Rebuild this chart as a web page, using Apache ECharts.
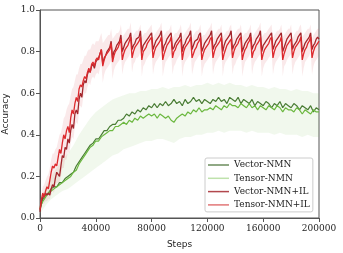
<!DOCTYPE html>
<html><head><meta charset="utf-8">
<script src="https://cdn.jsdelivr.net/npm/echarts@6/dist/echarts.min.js"></script>
<style>html,body{margin:0;padding:0;background:#fff}#c{width:343px;height:253px}</style>
</head><body><div id="c"></div>
<script>
// tick labels
const xTicks = [0, 40000, 80000, 120000, 160000, 200000];
const yTicks = [0.0, 0.2, 0.4, 0.6, 0.8, 1.0];
const seriesNames = ['Vector-NMN', 'Tensor-NMN', 'Vector-NMN+IL', 'Tensor-NMN+IL'];

// green runs: one value every 2000 steps (0..200000)
const vectorNMN = [
0.04,0.09,0.11,0.12,0.14,0.15,0.15,0.17,0.17,0.19,
0.20,0.21,0.22,0.25,0.27,0.29,0.31,0.33,0.35,0.36,
0.38,0.38,0.40,0.42,0.42,0.44,0.45,0.45,0.47,0.47,
0.48,0.50,0.49,0.51,0.50,0.52,0.51,0.53,0.52,0.54,
0.53,0.55,0.53,0.55,0.54,0.56,0.54,0.55,0.57,0.55,
0.56,0.54,0.57,0.55,0.56,0.58,0.56,0.57,0.55,0.57,
0.56,0.55,0.57,0.56,0.58,0.56,0.57,0.55,0.58,0.57,
0.56,0.58,0.55,0.57,0.56,0.55,0.57,0.54,0.56,0.55,
0.54,0.56,0.55,0.53,0.55,0.54,0.56,0.53,0.55,0.54,
0.53,0.55,0.54,0.52,0.54,0.53,0.52,0.54,0.51,0.53,
0.52];
const tensorNMN = [
0.05,0.08,0.10,0.12,0.13,0.14,0.15,0.16,0.17,0.18,
0.19,0.20,0.22,0.23,0.26,0.28,0.30,0.32,0.34,0.35,
0.37,0.37,0.39,0.40,0.41,0.42,0.42,0.44,0.44,0.45,
0.46,0.45,0.47,0.46,0.48,0.47,0.49,0.48,0.49,0.50,
0.49,0.50,0.48,0.50,0.49,0.48,0.49,0.47,0.46,0.48,
0.49,0.50,0.49,0.51,0.50,0.52,0.51,0.53,0.51,0.52,
0.52,0.53,0.52,0.54,0.53,0.52,0.54,0.53,0.55,0.54,
0.54,0.53,0.55,0.54,0.53,0.55,0.53,0.54,0.52,0.54,
0.53,0.52,0.54,0.53,0.52,0.54,0.53,0.51,0.53,0.52,
0.52,0.51,0.53,0.52,0.50,0.52,0.51,0.50,0.52,0.51,
0.51];
// green spread: one value every 4000 steps
const greenUpper = [
0.08,0.15,0.20,0.24,0.28,0.31,0.35,0.40,0.44,0.48,
0.51,0.53,0.55,0.57,0.58,0.59,0.60,0.60,0.61,0.61,
0.62,0.62,0.63,0.62,0.63,0.63,0.64,0.63,0.64,0.64,
0.65,0.64,0.65,0.64,0.65,0.64,0.64,0.63,0.64,0.63,
0.63,0.62,0.63,0.62,0.62,0.61,0.62,0.61,0.61,0.60,
0.60];
const greenLower = [
0.02,0.06,0.09,0.11,0.13,0.14,0.16,0.18,0.20,0.22,
0.24,0.26,0.28,0.30,0.31,0.33,0.34,0.35,0.36,0.37,
0.37,0.38,0.38,0.37,0.36,0.38,0.39,0.39,0.40,0.40,
0.41,0.41,0.42,0.41,0.42,0.42,0.42,0.41,0.42,0.41,
0.41,0.41,0.40,0.41,0.40,0.40,0.40,0.39,0.40,0.39,
0.39];

// red runs: one value every 1000 steps (0..200000)
const vectorNMNIL = [
0.03,0.08,0.10,0.11,0.12,0.11,0.12,0.11,0.14,0.16,
0.15,0.19,0.22,0.21,0.20,0.25,0.30,0.29,0.34,0.33,
0.38,0.36,0.42,0.45,0.43,0.50,0.52,0.50,0.57,0.60,
0.58,0.64,0.66,0.65,0.69,0.71,0.70,0.73,0.74,0.72,
0.75,0.76,0.77,0.79,0.81,
0.74,0.77,0.78,0.80,0.81,0.82,0.85,
0.77,0.80,0.81,0.83,0.84,0.85,0.88,
0.80,0.82,0.84,0.85,0.86,0.87,0.89,
0.81,0.83,0.84,0.86,0.86,0.87,0.90,
0.80,0.83,0.84,0.85,0.86,0.87,0.88,0.89,
0.81,0.83,0.85,0.85,0.87,0.88,0.90,
0.80,0.83,0.84,0.86,0.86,0.88,0.89,
0.81,0.82,0.84,0.85,0.86,0.87,0.89,
0.80,0.83,0.84,0.86,0.87,0.88,0.90,
0.81,0.83,0.85,0.85,0.86,0.88,0.89,
0.80,0.82,0.84,0.85,0.86,0.87,0.88,0.90,
0.81,0.83,0.84,0.86,0.86,0.88,0.89,
0.80,0.83,0.85,0.85,0.87,0.88,0.90,
0.81,0.83,0.84,0.86,0.87,0.88,0.89,
0.80,0.82,0.84,0.85,0.86,0.87,0.89,
0.81,0.83,0.84,0.86,0.87,0.88,0.90,
0.80,0.83,0.84,0.85,0.86,0.87,0.88,0.89,
0.81,0.83,0.85,0.85,0.87,0.88,0.89,
0.80,0.82,0.84,0.86,0.86,0.88,0.89,
0.81,0.83,0.84,0.85,0.87,0.88,0.89,
0.80,0.82,0.84,0.85,0.86,0.87,0.89,
0.81,0.83,0.84,0.86,0.87,0.86];
const tensorNMNIL = [
0.04,0.09,0.12,0.10,0.13,0.15,0.14,0.18,0.22,0.25,
0.24,0.26,0.25,0.29,0.33,0.31,0.36,0.40,0.38,0.42,
0.44,0.41,0.48,0.52,0.50,0.55,0.58,0.56,0.62,0.64,
0.63,0.66,0.68,0.67,0.70,0.72,0.70,0.74,0.75,0.73,
0.76,0.77,0.76,0.79,0.81,
0.73,0.76,0.78,0.79,0.80,0.81,0.84,
0.75,0.78,0.80,0.81,0.82,0.84,0.86,
0.76,0.79,0.81,0.82,0.83,0.85,0.87,
0.77,0.80,0.82,0.83,0.84,0.85,0.87,
0.76,0.80,0.81,0.82,0.84,0.85,0.86,0.87,
0.77,0.80,0.82,0.83,0.84,0.85,0.87,
0.76,0.79,0.81,0.83,0.83,0.85,0.87,
0.77,0.80,0.81,0.83,0.84,0.85,0.86,
0.76,0.80,0.82,0.83,0.84,0.85,0.87,
0.77,0.79,0.81,0.82,0.84,0.85,0.87,
0.76,0.79,0.81,0.82,0.83,0.84,0.86,0.87,
0.77,0.80,0.82,0.83,0.84,0.85,0.87,
0.76,0.79,0.81,0.83,0.84,0.85,0.86,
0.77,0.80,0.82,0.83,0.84,0.86,0.87,
0.76,0.79,0.81,0.82,0.84,0.85,0.87,
0.77,0.80,0.81,0.83,0.84,0.85,0.87,
0.76,0.79,0.81,0.82,0.83,0.84,0.86,0.87,
0.77,0.80,0.82,0.83,0.84,0.85,0.87,
0.76,0.79,0.81,0.83,0.84,0.85,0.86,
0.77,0.80,0.82,0.83,0.84,0.85,0.87,
0.76,0.79,0.81,0.82,0.84,0.85,0.87,
0.77,0.80,0.82,0.83,0.84,0.85];
// red spread: one value every 1000 steps
const redUpper = [
0.07,0.12,0.15,0.16,0.18,0.20,0.21,0.24,0.28,0.31,
0.31,0.33,0.34,0.37,0.40,0.41,0.44,0.48,0.49,0.52,
0.54,0.55,0.59,0.62,0.63,0.66,0.69,0.69,0.72,0.74,
0.74,0.76,0.78,0.78,0.80,0.81,0.81,0.83,0.84,0.83,
0.85,0.85,0.85,0.87,0.89,
0.84,0.85,0.86,0.87,0.88,0.88,0.91,
0.86,0.87,0.88,0.89,0.89,0.90,0.93,
0.87,0.88,0.89,0.90,0.91,0.91,0.94,
0.86,0.88,0.89,0.90,0.90,0.91,0.93,
0.87,0.88,0.89,0.89,0.90,0.91,0.92,0.93,
0.86,0.88,0.89,0.90,0.91,0.92,0.94,
0.87,0.88,0.89,0.90,0.90,0.91,0.93,
0.86,0.88,0.89,0.89,0.90,0.91,0.93,
0.87,0.88,0.89,0.90,0.91,0.92,0.94,
0.86,0.88,0.89,0.90,0.90,0.91,0.93,
0.87,0.88,0.88,0.89,0.90,0.91,0.92,0.94,
0.86,0.88,0.89,0.90,0.91,0.91,0.93,
0.87,0.88,0.89,0.90,0.90,0.92,0.93,
0.86,0.88,0.89,0.90,0.91,0.91,0.93,
0.87,0.88,0.89,0.89,0.90,0.91,0.93,
0.86,0.88,0.89,0.90,0.91,0.92,0.94,
0.87,0.88,0.89,0.89,0.90,0.91,0.92,0.93,
0.86,0.88,0.89,0.90,0.90,0.91,0.93,
0.87,0.88,0.89,0.90,0.91,0.91,0.93,
0.86,0.88,0.89,0.90,0.90,0.92,0.93,
0.87,0.88,0.89,0.90,0.91,0.91,0.93,
0.86,0.88,0.89,0.90,0.91,0.91];
const redLower = [
0.01,0.05,0.07,0.07,0.08,0.08,0.09,0.09,0.11,0.13,
0.12,0.15,0.17,0.17,0.17,0.20,0.24,0.24,0.28,0.28,
0.32,0.31,0.36,0.39,0.38,0.44,0.46,0.45,0.51,0.54,
0.53,0.58,0.60,0.60,0.63,0.65,0.64,0.67,0.68,0.67,
0.69,0.70,0.69,0.72,0.74,
0.65,0.69,0.71,0.72,0.73,0.74,0.76,
0.67,0.71,0.73,0.74,0.75,0.76,0.79,
0.69,0.73,0.75,0.76,0.77,0.78,0.80,
0.70,0.74,0.75,0.77,0.77,0.78,0.80,
0.68,0.73,0.74,0.76,0.77,0.78,0.79,0.80,
0.69,0.73,0.75,0.76,0.77,0.78,0.80,
0.68,0.72,0.75,0.76,0.77,0.78,0.79,
0.69,0.73,0.74,0.76,0.77,0.78,0.80,
0.68,0.73,0.75,0.76,0.77,0.78,0.80,
0.69,0.72,0.75,0.76,0.77,0.78,0.79,
0.68,0.72,0.74,0.75,0.76,0.77,0.78,0.80,
0.69,0.73,0.75,0.76,0.77,0.78,0.80,
0.68,0.73,0.75,0.76,0.77,0.78,0.79,
0.69,0.73,0.74,0.76,0.77,0.78,0.80,
0.68,0.72,0.75,0.76,0.77,0.78,0.80,
0.69,0.73,0.75,0.76,0.77,0.78,0.79,
0.68,0.72,0.74,0.75,0.76,0.77,0.78,0.80,
0.69,0.73,0.75,0.76,0.77,0.78,0.80,
0.68,0.73,0.74,0.76,0.77,0.78,0.79,
0.69,0.73,0.75,0.76,0.77,0.78,0.80,
0.68,0.72,0.75,0.76,0.77,0.78,0.80,
0.69,0.73,0.75,0.76,0.77,0.78];

function pairs(vals, stepSize) { return vals.map((v, i) => [i * stepSize, v]); }
// spread band drawn as one polygon, points placed through the axes (api.coord)
function bandSeries(id, lower, upper, stepSize, color) {
  const up = pairs(upper, stepSize), lo = pairs(lower, stepSize);
  return {
    name: id, type: 'custom', silent: true, z: 1,
    data: [0],
    encode: { x: [], y: [] },
    renderItem: function (params, api) {
      const pts = up.map(p => api.coord(p)).concat(lo.slice().reverse().map(p => api.coord(p)));
      return { type: 'polygon', shape: { points: pts }, style: { fill: color }, silent: true };
    }
  };
}
function lineSeries(name, vals, stepSize, color, width, z) {
  return { name: name, type: 'line', symbol: 'none', data: pairs(vals, stepSize),
    lineStyle: { color: color, width: width }, itemStyle: { color: color }, z: z };
}

const chart = echarts.init(document.getElementById('c'), null, { renderer: 'canvas' });
const serif = 'DejaVu Serif';
chart.setOption({
  animation: false,
  grid: { left: 40, right: 24, top: 10, bottom: 35, show: true, borderColor: '#555', borderWidth: 1,
          containLabel: false, outerBoundsMode: 'none' },
  xAxis: {
    type: 'value', min: xTicks[0], max: xTicks[xTicks.length - 1], interval: 40000,
    name: 'Steps', nameLocation: 'middle', nameGap: 22,
    nameTextStyle: { fontFamily: 'DejaVu Sans', fontSize: 9, color: '#222' },
    axisLine: { lineStyle: { color: '#555' } },
    axisTick: { length: 4, lineStyle: { color: '#555' } },
    axisLabel: { fontFamily: serif, fontSize: 9, color: '#222', margin: 6,
      formatter: v => xTicks.includes(v) ? String(v) : '' },
    splitLine: { show: false }
  },
  yAxis: {
    type: 'value', min: 0, max: 1, interval: 0.2,
    name: 'Accuracy', nameLocation: 'middle', nameGap: 29,
    nameTextStyle: { fontFamily: 'DejaVu Sans', fontSize: 9, color: '#222' },
    axisLine: { show: true, lineStyle: { color: '#555' } },
    axisTick: { show: true, length: 4, lineStyle: { color: '#555' } },
    axisLabel: { fontFamily: serif, fontSize: 9, color: '#222', margin: 5,
      formatter: v => yTicks[Math.round(v / 0.2)].toFixed(1) },
    splitLine: { show: false }
  },
  legend: {
    left: 205, top: 158, orient: 'vertical',
    backgroundColor: 'rgba(255,255,255,0.85)', borderColor: '#ccc', borderWidth: 1, borderRadius: 2,
    padding: [1, 3, 1, 3], itemGap: 1.3, itemWidth: 21, itemHeight: 1.5, icon: 'rect',
    textStyle: { fontFamily: serif, fontSize: 9, color: '#222', lineHeight: 12 },
    data: [
      { name: seriesNames[0], itemStyle: { color: '#6b8d5c' } },
      { name: seriesNames[1], itemStyle: { color: '#bfe2ac' } },
      { name: seriesNames[2], itemStyle: { color: '#b2484d' } },
      { name: seriesNames[3], itemStyle: { color: '#e27778' } }
    ]
  },
  series: [
    bandSeries('gband', greenLower, greenUpper, 4000, 'rgba(140,195,110,0.12)'),
    bandSeries('rband', redLower, redUpper, 1000, 'rgba(215,70,85,0.12)'),
    lineSeries(seriesNames[0], vectorNMN, 2000, '#4a7d35', 1.2, 3),
    lineSeries(seriesNames[1], tensorNMN, 2000, '#6cb840', 1.2, 4),
    lineSeries(seriesNames[2], vectorNMNIL, 1000, '#a3262c', 1.3, 5),
    lineSeries(seriesNames[3], tensorNMNIL, 1000, '#dd2a2e', 1.3, 6)
  ]
});
</script>
</body></html>
